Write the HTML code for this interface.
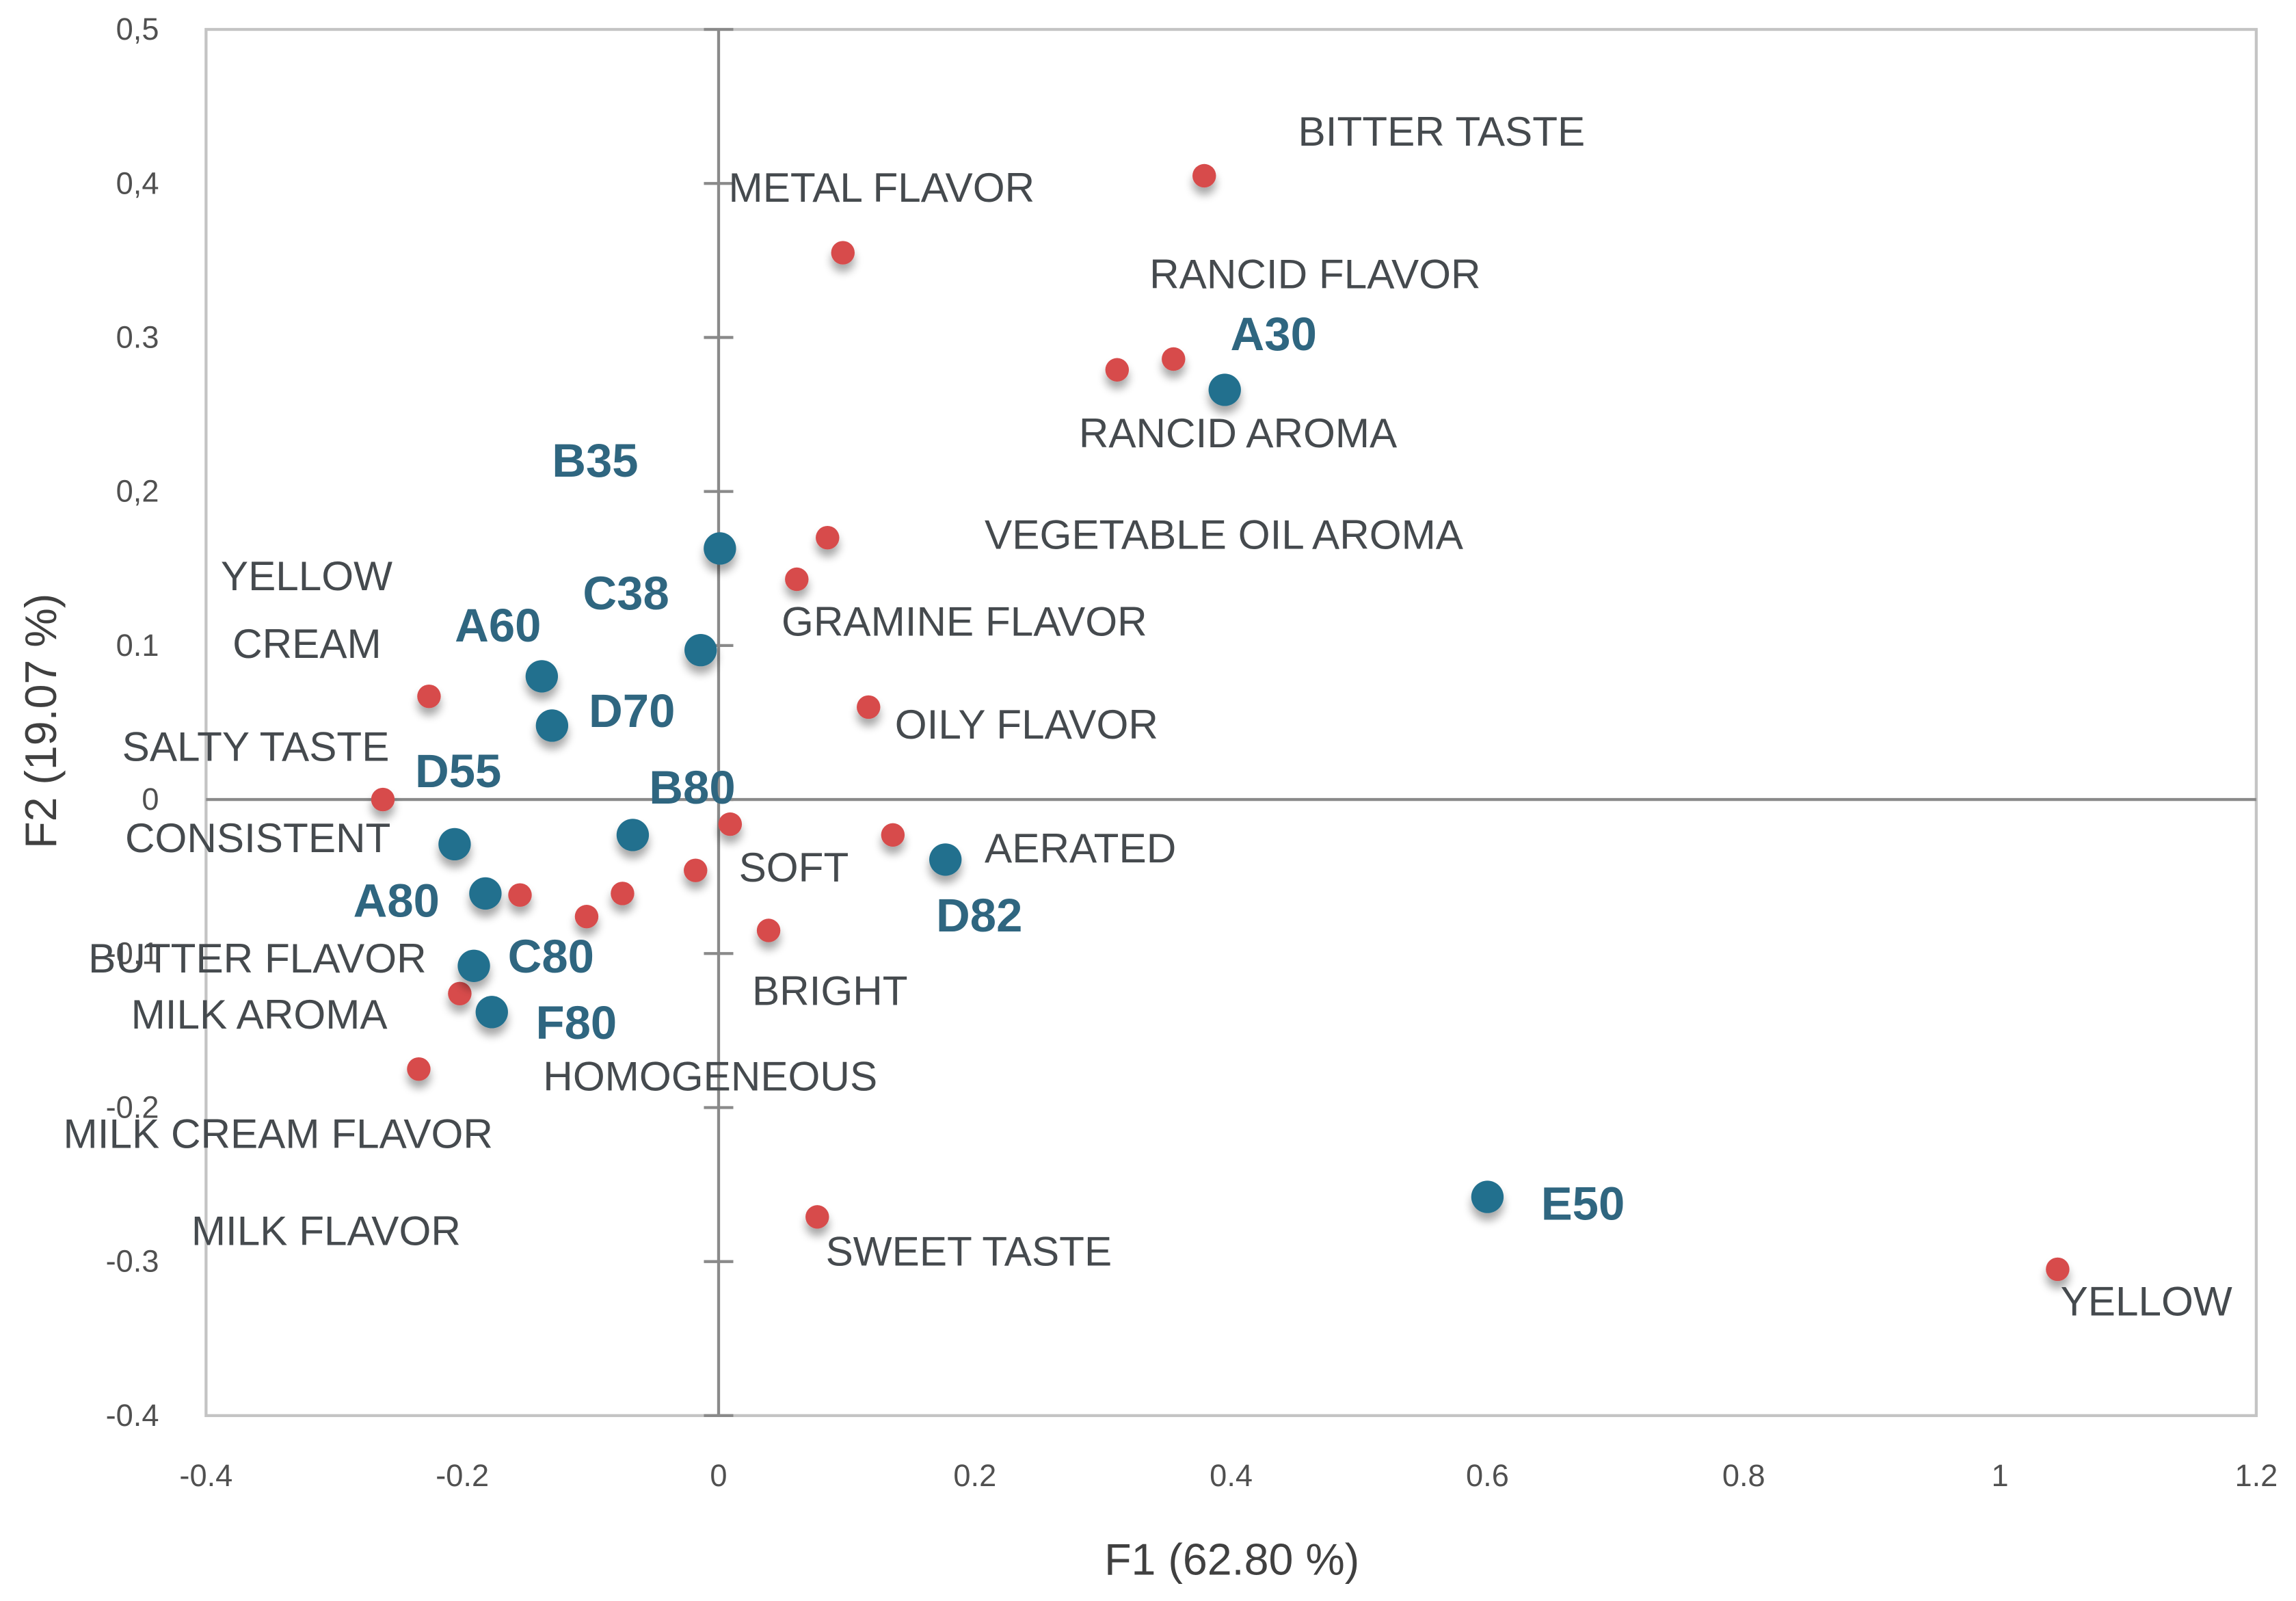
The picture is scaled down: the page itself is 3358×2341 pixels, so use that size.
<!DOCTYPE html>
<html><head><meta charset="utf-8"><style>
html,body{margin:0;padding:0;background:#fff;}
svg{display:block;}
.lbl{font-family:"Liberation Sans",sans-serif;font-size:28px;fill:#454a4e;}
.blbl{font-family:"Liberation Sans",sans-serif;font-size:32px;font-weight:bold;fill:#2f6680;}
.tick{font-family:"Liberation Sans",sans-serif;font-size:21px;fill:#505050;}
.ttl{font-family:"Liberation Sans",sans-serif;font-size:30px;fill:#404040;}
</style></head><body>
<svg id="chart" width="3358" height="2341" viewBox="0 0 1560 1088" preserveAspectRatio="none" xmlns="http://www.w3.org/2000/svg">
<defs>
<filter id="sh" x="-100%" y="-100%" width="300%" height="300%"><feGaussianBlur in="SourceAlpha" stdDeviation="3"/><feOffset dy="5"/><feComponentTransfer><feFuncA type="linear" slope="0.35"/></feComponentTransfer><feMerge><feMergeNode/><feMergeNode in="SourceGraphic"/></feMerge></filter>
</defs>
<rect x="140" y="20" width="1393" height="942" fill="#fff" stroke="#c4c4c4" stroke-width="2"/>
<g id="axes"></g>
<g id="points"></g>
<g>
<text class="lbl" x="882" y="99">BITTER TASTE</text>
<text class="lbl" x="495" y="137">METAL FLAVOR</text>
<text class="lbl" x="781" y="196">RANCID FLAVOR</text>
<text class="lbl" x="733" y="304">RANCID AROMA</text>
<text class="lbl" x="669" y="373">VEGETABLE OIL AROMA</text>
<text class="lbl" x="150" y="401">YELLOW</text>
<text class="lbl" x="158" y="447">CREAM</text>
<text class="lbl" x="531" y="432">GRAMINE FLAVOR</text>
<text class="lbl" x="608" y="502">OILY FLAVOR</text>
<text class="lbl" x="83" y="517">SALTY TASTE</text>
<text class="lbl" x="85" y="579">CONSISTENT</text>
<text class="lbl" x="669" y="586">AERATED</text>
<text class="lbl" x="502" y="599">SOFT</text>
<text class="lbl" x="60" y="661">BUTTER FLAVOR</text>
<text class="lbl" x="511" y="683">BRIGHT</text>
<text class="lbl" x="89" y="699">MILK AROMA</text>
<text class="lbl" x="369" y="741">HOMOGENEOUS</text>
<text class="lbl" x="43" y="780">MILK CREAM FLAVOR</text>
<text class="lbl" x="130" y="846">MILK FLAVOR</text>
<text class="lbl" x="561" y="860">SWEET TASTE</text>
<text class="lbl" x="1400" y="894">YELLOW</text>
<text class="blbl" x="836" y="238">A30</text>
<text class="blbl" x="375" y="324">B35</text>
<text class="blbl" x="396" y="414">C38</text>
<text class="blbl" x="309" y="436">A60</text>
<text class="blbl" x="400" y="494">D70</text>
<text class="blbl" x="282" y="535">D55</text>
<text class="blbl" x="441" y="546">B80</text>
<text class="blbl" x="240" y="623">A80</text>
<text class="blbl" x="636" y="633">D82</text>
<text class="blbl" x="345" y="661">C80</text>
<text class="blbl" x="364" y="706">F80</text>
<text class="blbl" x="1047" y="829">E50</text>
</g>
<text class="ttl" x="837" y="1070" text-anchor="middle">F1 (62.80 %)</text>
<text class="ttl" transform="translate(38,490) rotate(-90)" text-anchor="middle">F2 (19.07 %)</text>
</svg>
<script>
const xTicks = [-0.4, -0.2, 0, 0.2, 0.4, 0.6, 0.8, 1, 1.2];
const xTickLabels = ["-0.4","-0.2","0","0.2","0.4","0.6","0.8","1","1.2"];
const yTicks = [0.5, 0.4, 0.3, 0.2, 0.1, 0, -0.1, -0.2, -0.3, -0.4];
const yTickLabels = ["0,5","0,4","0.3","0,2","0.1","0","-0,1","-0.2","-0.3","-0.4"];
const attrX = [0.379, 0.097, 0.355, 0.311, 0.085, 0.061, 0.117, -0.226, -0.262, 0.009, 0.136, -0.018, -0.075, -0.155, -0.103, 0.039, -0.202, -0.234, 0.077, 1.045];
const attrY = [0.405, 0.355, 0.286, 0.279, 0.170, 0.143, 0.060, 0.067, 0.0, -0.016, -0.023, -0.046, -0.061, -0.062, -0.076, -0.085, -0.126, -0.175, -0.271, -0.305];
const sampleNames = ["A30","B35","C38","A60","D70","B80","D55","D82","A80","C80","F80","E50"];
const sampleX = [0.395, 0.001, -0.014, -0.138, -0.130, -0.067, -0.206, 0.177, -0.182, -0.191, -0.177, 0.600];
const sampleY = [0.266, 0.163, 0.097, 0.080, 0.048, -0.023, -0.029, -0.039, -0.061, -0.108, -0.138, -0.258];

const NS = "http://www.w3.org/2000/svg";
const L = 140, R = 1533, T = 20, B = 962;
function sx(v){ return L + (v - (-0.4)) / 1.6 * (R - L); }
function sy(v){ return T + (0.5 - v) / 0.9 * (B - T); }
function mk(tag, attrs, parent){ const e = document.createElementNS(NS, tag); for (const k in attrs) e.setAttribute(k, attrs[k]); parent.appendChild(e); return e; }

const axes = document.getElementById('axes');
const vl = mk('line', {x1: sx(0), x2: sx(0), y1: T, y2: B, stroke: '#8a8a8a', 'stroke-width': 2}, axes);


const hl = mk('line', {x1: L, x2: R, y1: sy(0), y2: sy(0), stroke: '#8a8a8a', 'stroke-width': 2}, axes);


yTicks.forEach((v, i) => {
  const tk = mk('line', {x1: sx(0) - 10, x2: sx(0) + 10, y1: sy(v), y2: sy(v), stroke: '#8a8a8a', 'stroke-width': 2}, axes);
  
  
  const t = mk('text', {x: 108, y: sy(v) + 7, 'text-anchor': 'end', class: 'tick'}, axes);
  t.textContent = yTickLabels[i];
  
  
});
xTicks.forEach((v, i) => {
  const t = mk('text', {x: sx(v), y: 1010, 'text-anchor': 'middle', class: 'tick'}, axes);
  t.textContent = xTickLabels[i];
  
  
});
const pts = document.getElementById('points');
attrX.forEach((v, i) => {
  const c = mk('circle', {cx: sx(v), cy: sy(attrY[i]), r: 8, fill: '#d74b4b', filter: 'url(#sh)'}, pts);
  
  
});
sampleX.forEach((v, i) => {
  const c = mk('circle', {cx: sx(v), cy: sy(sampleY[i]), r: 11, fill: '#236f8e', filter: 'url(#sh)'}, pts);
  
  
});
</script>
</body></html>
